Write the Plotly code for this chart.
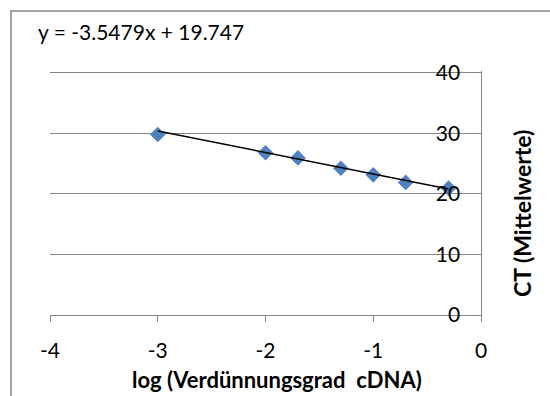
import plotly.graph_objects as go

# Data
log_dilution = [-3.0, -2.0, -1.699, -1.301, -1.0, -0.699, -0.301]
ct_mean = [29.8, 26.8, 25.95, 24.25, 23.15, 21.9, 20.95]
slope = -3.5479
intercept = 19.747
x_ticks = [-4, -3, -2, -1, 0]
x_tick_text = ["-4", "-3", "-2", "-1", "0"]
y_ticks = [0, 10, 20, 30, 40]
y_tick_text = ["0", "10", "20", "30", "40"]

FONT = "Lato"
GRID = "#868686"

trend_x = [min(log_dilution), max(log_dilution)]
trend_y = [slope * v + intercept for v in trend_x]

fig = go.Figure()
fig.add_trace(go.Scatter(
    x=log_dilution, y=ct_mean, mode="markers",
    marker=dict(symbol="diamond", size=12, color="#4F81BD"),
    showlegend=False, cliponaxis=False,
))
fig.add_trace(go.Scatter(
    x=trend_x, y=trend_y, mode="lines",
    line=dict(color="black", width=1.5),
    showlegend=False,
))

L, R, T, B = 50, 69, 71, 81
W, H = 550, 396
pw, ph = W - L - R, H - T - B

def px_x(p):
    return (p - L) / pw

def px_y(p):
    return (H - B - p) / ph

fig.update_layout(
    width=W, height=H,
    margin=dict(l=L, r=R, t=T, b=B, pad=0),
    paper_bgcolor="white", plot_bgcolor="white",
    font=dict(family=FONT, size=21, color="black"),
    showlegend=False,
    xaxis=dict(
        range=[-4, 0], tickvals=x_ticks, ticktext=x_tick_text,
        showgrid=False, zeroline=False,
        showline=True, linecolor=GRID, linewidth=1,
        ticks="outside", ticklen=6, tickcolor=GRID, tickwidth=1,
        ticklabelstandoff=11, ticklabeloverflow="allow",
        tickfont=dict(family=FONT, size=21, color="black"),
        fixedrange=True,
    ),
    yaxis=dict(
        range=[0, 40.3], tickvals=y_ticks, ticktext=y_tick_text, side="right",
        showgrid=True, gridcolor=GRID, gridwidth=1, zeroline=False,
        showline=True, linecolor=GRID, linewidth=1,
        ticks="", ticklabelposition="inside", ticklabelstandoff=22,
        ticklabeloverflow="allow",
        tickfont=dict(family=FONT, size=21, color="black"),
        fixedrange=True,
    ),
    shapes=[dict(
        type="rect", xref="paper", yref="paper",
        x0=px_x(11), x1=px_x(620), y0=px_y(430), y1=px_y(11),
        line=dict(color=GRID, width=1.5), fillcolor="rgba(0,0,0,0)",
        layer="below",
    )],
    annotations=[
        dict(text="y = -3.5479x + 19.747", xref="paper", yref="paper",
             x=px_x(36), y=px_y(31), xanchor="left", yanchor="middle",
             showarrow=False, font=dict(family=FONT, size=21)),
        dict(text="<b>log (Verdünnungsgrad  cDNA)</b>", xref="paper", yref="paper",
             x=px_x(277), y=px_y(379), xanchor="center", yanchor="middle",
             showarrow=False, font=dict(family=FONT, size=22)),
        dict(text="<b>CT (Mittelwerte)</b>", xref="paper", yref="paper",
             x=px_x(522), y=px_y(214), xanchor="center", yanchor="middle",
             textangle=-90, showarrow=False, font=dict(family=FONT, size=23)),
    ],
)

fig.write_html("out.html")
